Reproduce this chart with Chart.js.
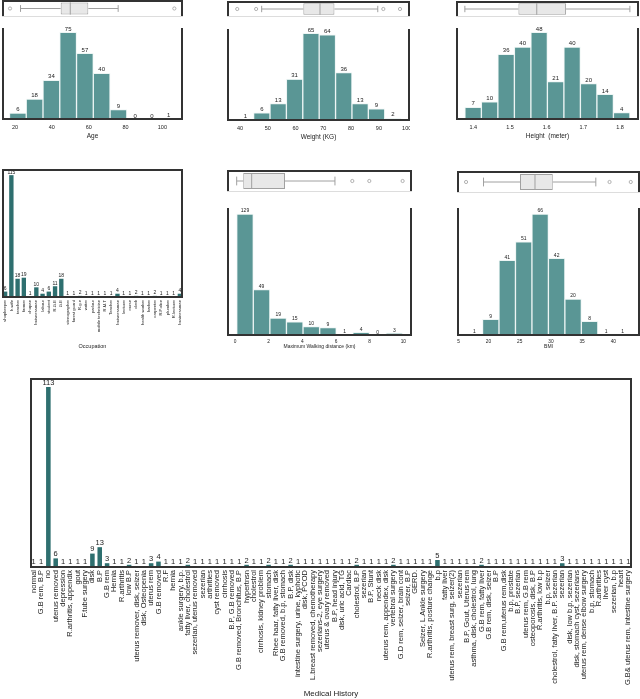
<!DOCTYPE html>
<html>
<head>
<meta charset="utf-8">
<script src="https://cdn.jsdelivr.net/npm/chart.js@4.4.0/dist/chart.umd.min.js"></script>
<style>
body { margin: 0; width: 640px; height: 699px; background: #fff; position: relative; overflow: hidden; }
.p { position: absolute; }
</style>
</head>
<body>
<div class="p" style="left:2px;top:0px;width:181px;height:17px"><canvas id="ageBox"></canvas></div>
<div class="p" style="left:2px;top:22px;width:181px;height:118px"><canvas id="ageHist"></canvas></div>
<div class="p" style="left:227px;top:1px;width:183px;height:16px"><canvas id="weightBox"></canvas></div>
<div class="p" style="left:227px;top:23px;width:183px;height:118px"><canvas id="weightHist"></canvas></div>
<div class="p" style="left:456px;top:1px;width:183px;height:16px"><canvas id="heightBox"></canvas></div>
<div class="p" style="left:456px;top:22px;width:183px;height:118px"><canvas id="heightHist"></canvas></div>

<div class="p" style="left:2px;top:163px;width:181px;height:187px"><canvas id="occChart"></canvas></div>
<div class="p" style="left:227px;top:170px;width:185px;height:22px"><canvas id="walkBox"></canvas></div>
<div class="p" style="left:227px;top:202px;width:185px;height:148px"><canvas id="walkHist"></canvas></div>
<div class="p" style="left:457px;top:171px;width:183px;height:22px"><canvas id="bmiBox"></canvas></div>
<div class="p" style="left:457px;top:202px;width:183px;height:148px"><canvas id="bmiHist"></canvas></div>

<div class="p" style="left:30px;top:372px;width:602px;height:327px"><canvas id="medChart"></canvas></div>

<script>
// histogram bins (edges), counts and box plot stats: [whisker low, q1, median, q3, whisker high]
var ageEdges = [17, 26.1, 35.2, 44.3, 53.4, 62.5, 71.6, 80.7, 89.8, 98.9, 108];
var ageCounts = [6, 18, 34, 75, 57, 40, 9, 0, 0, 1];
var ageTicks = [20, 40, 60, 80, 100];
var ageBox = [23, 44.8, 50, 59.8, 76];
var ageOutliers = [17.3, 106.5];

var weightEdges = [39, 44.9, 50.8, 56.7, 62.6, 68.5, 74.4, 80.3, 86.2, 92.1, 98];
var weightCounts = [1, 6, 13, 31, 65, 64, 36, 13, 9, 2];
var weightTicks = [40, 50, 60, 70, 80, 90, 100];
var weightBox = [47.8, 62.8, 68.8, 74, 89.6];
var weightOutliers = [39, 45.8, 91.6, 97.6];

var heightEdges = [1.377, 1.422, 1.467, 1.512, 1.557, 1.602, 1.647, 1.692, 1.737, 1.782, 1.827];
var heightCounts = [7, 10, 36, 40, 48, 21, 40, 20, 14, 4];
var heightTicks = [1.4, 1.5, 1.6, 1.7, 1.8];
var heightBox = [1.377, 1.523, 1.573, 1.653, 1.827];
var heightOutliers = [];

var walkEdges = [0.1, 1.09, 2.07, 3.06, 4.04, 5.03, 6.02, 7.0, 7.99, 8.97, 9.96];
var walkCounts = [129, 49, 19, 15, 10, 9, 1, 4, 0, 3];
var walkTicks = [0, 2, 4, 6, 8, 10];
var walkBox = [0.1, 0.49, 0.99, 2.97, 5.94];
var walkOutliers = [6.97, 7.98, 9.96];

var bmiEdges = [16.4, 19.04, 21.68, 24.32, 26.96, 29.6, 32.24, 34.88, 37.52, 40.16, 42.8];
var bmiCounts = [1, 9, 41, 51, 66, 42, 20, 8, 1, 1];
var bmiTicks = [15, 20, 25, 30, 35, 40];
var bmiBox = [19.2, 25.05, 27.45, 30.3, 37.2];
var bmiOutliers = [16.4, 39.4, 42.8];

var occLabels = ['shopkeeper', 'h.wife', 'teacher', 'farmer', 'chopan', 'buisnessman', 'labour', 'student', 'R.G.E', 'G.E',
  'stenographer', 'forest guard', 'R.g.e', 'writer', 'parlour', 'mobile technician', 'R.M.T', 'Teacher', 'buisnessman',
  'lecturer', 'nurse', 'clerk', 'health worker', 'barber', 'carpenter', 'R.Police', 'plumber', 'R.lecturer', 'businessman'];
var occCounts = [6, 115, 18, 19, 1, 10, 4, 6, 11, 18, 1, 1, 2, 1, 1, 1, 1, 1, 4, 1, 1, 2, 1, 1, 2, 1, 1, 1, 4];

var medLabels = ['normal', 'G.B rem, B.P', 'no', 'uterus removed', 'depression', 'R.arthritis, appendix', 'gout',
  'F.tube surgery', 'disk', 'B.P', 'G.B rem', 'Hernia', 'R.arthritis', 'low B.P', 'uterus remover, disk, seizer',
  'disk, Osteopenia', 'uterus rem', 'G.B removed', 'R.F', 'hernia', 'ankle surgery, b.p.', 'fatty liver, cholestrol',
  'sezerian, uterus removed', 'sezerian', 'arthrities', 'cyst removed', 'cirrhosis', 'B.P, G.B removed',
  'G.B removed, Bronchitus, B.P', 'hypertnsn', 'cholestrol', 'cirrhosis, kidney problem', 'stomach',
  'Rhee haar, fatty liver, disk', 'G.B removed, b.p, stomach', 'B.P, disk', 'intestine surgery, urine, kyphotic',
  'disk, PCOD', 'L.breast removed, chemotherapy', 'sezerians-2, eye surgery', 'uterus & ovary removed',
  'B.P, head injury', 'disk, uric acid, TG', 'Cardiac', 'cholestrol, B.P', 'sezerian', 'B.P, Stunt', 'neck disk',
  'uterus rem, appendex, disk', 'vertebral surgery', 'G.D rem, seizer, brain cont', 'seizer, B.P', 'GERD.',
  'Seizer, L.Ankle surgery', 'R.arthritis, posture change', 'b.p', 'fatty liver', 'uterus rem, breast surg, seizer(2)',
  'sezerian', 'B.P, Gout, Uterus rem', 'asthma, disk, cholestrol, lung', 'G.B rem, fatty liver', 'G.B rem, disk, seizer',
  'B.P', 'G.B rem,uterus rem,disk', 'b.p, prostate', 'B.P, sezerian', 'uterus rem, G.B rem', 'osteoporosis, disk, B.P',
  'R.arthritis, low b.p', 'b.p, seizer', 'cholestrol, fatty liver, B.P. sezerian', 'sezerian', 'disk, low b.p, sezerian',
  'disk, stomach cyst, sezerians', 'uterus rem, dense elbow surgery', 'b.p, stomach', 'R.arthrities', 'liver cyst',
  'sezerian, b.p', 'heart', 'G.B& uterus rem, intestine surgery'];
var medCounts = [1, 1, 113, 6, 1, 1, 1, 1, 9, 13, 3, 1, 1, 2, 1, 1, 3, 4, 1, 1, 1, 2, 1, 1, 1, 1, 1, 1,
  1, 2, 1, 1, 2, 1, 1, 2, 1, 1, 1, 1, 1, 1, 1, 1, 2, 1, 1, 1, 1, 2, 1, 1, 1, 1,
  1, 5, 1, 1, 1, 1, 1, 2, 1, 1, 1, 1, 1, 1, 1, 1, 1, 1, 3, 1, 1, 1, 1, 1, 1, 1, 1, 1];

Chart.defaults.font.family = '"Liberation Sans", Arial, sans-serif';
Chart.defaults.color = '#222';
Chart.defaults.animation = false;
Chart.defaults.plugins.legend.display = false;
Chart.defaults.plugins.tooltip.enabled = false;

var DARK = '#333333';

// lines along the plot area edges (like the matplotlib spines)
function frame(sides) {
  return {
    id: 'frame',
    afterDraw: function (chart) {
      var a = chart.chartArea, ctx = chart.ctx;
      ctx.save();
      Object.keys(sides).forEach(function (side) {
        var s = sides[side], h = s.w / 2;
        ctx.strokeStyle = s.c;
        ctx.lineWidth = s.w;
        ctx.beginPath();
        if (side === 'top') { ctx.moveTo(a.left, a.top + h); ctx.lineTo(a.right, a.top + h); }
        if (side === 'bottom') { ctx.moveTo(a.left, a.bottom - h); ctx.lineTo(a.right, a.bottom - h); }
        if (side === 'left') { ctx.moveTo(a.left + h, a.top); ctx.lineTo(a.left + h, a.bottom); }
        if (side === 'right') { ctx.moveTo(a.right - h, a.top); ctx.lineTo(a.right - h, a.bottom); }
        ctx.stroke();
      });
      ctx.restore();
    }
  };
}

// count written over every bar
function valueLabels(size) {
  return {
    id: 'valueLabels',
    afterDatasetsDraw: function (chart) {
      var ctx = chart.ctx, meta = chart.getDatasetMeta(0), ds = chart.data.datasets[0];
      ctx.save();
      ctx.font = size + 'px "Liberation Sans", Arial, sans-serif';
      ctx.fillStyle = '#222';
      ctx.textAlign = 'center';
      ctx.textBaseline = 'bottom';
      meta.data.forEach(function (bar, i) {
        var v = ds.data[i];
        if (typeof v === 'object') v = v.y;
        ctx.fillText(v, bar.x, bar.y - 0.5);
      });
      ctx.restore();
    }
  };
}

function histChart(id, edges, counts, ticks, xmin, xmax, o) {
  var pts = counts.map(function (c, i) { return { x: (edges[i] + edges[i + 1]) / 2, y: c }; });
  return new Chart(document.getElementById(id), {
    type: 'bar',
    data: {
      datasets: [{
        data: pts,
        backgroundColor: '#5a9695',
        borderColor: 'rgba(235,244,243,0.9)',
        borderWidth: 1,
        barPercentage: 1,
        categoryPercentage: 1
      }]
    },
    options: {
      responsive: true,
      maintainAspectRatio: false,
      layout: { padding: { top: 6 } },
      scales: {
        x: {
          type: 'linear', min: xmin, max: xmax, offset: false,
          grid: { display: false, drawTicks: false, offset: false },
          border: { display: false },
          afterBuildTicks: function (s) { s.ticks = ticks.map(function (v) { return { value: v }; }); },
          ticks: { font: { size: o.tick }, padding: o.pad, maxRotation: 0, autoSkip: false,
                   callback: function (v) { return String(v); } },
          title: { display: true, text: o.title, font: { size: o.titleSize }, padding: 0 },
          afterFit: function (s) { s.height = o.axisH; s.paddingLeft = 0; s.paddingRight = 0; }
        },
        y: { display: false, min: 0, max: Math.max.apply(null, counts) * 1.05 }
      }
    },
    plugins: [frame({ left: { c: DARK, w: 2 }, right: { c: DARK, w: 2 }, bottom: { c: DARK, w: 2 } }), valueLabels(o.val)]
  });
}

function boxChart(id, box, outliers, xmin, xmax) {
  var grey = '#a0a0a0';
  function seg(x1, y1, x2, y2) {
    return { data: [{ x: x1, y: y1 }, { x: x2, y: y2 }], showLine: true, borderColor: grey, borderWidth: 1,
             pointRadius: 0, pointHoverRadius: 0 };
  }
  return new Chart(document.getElementById(id), {
    type: 'scatter',
    data: {
      datasets: [
        seg(box[2], -0.72, box[2], 0.72),
        seg(box[0], 0, box[1], 0),
        seg(box[3], 0, box[4], 0),
        seg(box[0], -0.4, box[0], 0.4),
        seg(box[4], -0.4, box[4], 0.4),
        { data: outliers.map(function (v) { return { x: v, y: 0 }; }), pointRadius: 1.6, pointBorderWidth: 0.8,
          pointBorderColor: grey, pointBackgroundColor: '#fff' },
        { type: 'bar', indexAxis: 'y', data: [{ x: [box[1], box[3]], y: 0 }], backgroundColor: '#e8e8e8',
          borderColor: grey, borderWidth: 1, borderSkipped: false, barPercentage: 0.72, categoryPercentage: 1 }
      ]
    },
    options: {
      responsive: true,
      maintainAspectRatio: false,
      layout: { padding: 0, autoPadding: false },
      scales: {
        x: { type: 'linear', min: xmin, max: xmax, display: false, offset: false },
        y: { type: 'linear', min: -1, max: 1, display: false, offset: false,
             afterBuildTicks: function (s) { s.ticks = [{ value: -1 }, { value: 1 }]; } }
      }
    },
    plugins: [frame({ top: { c: DARK, w: 2 }, left: { c: DARK, w: 2 }, right: { c: DARK, w: 2 }, bottom: { c: '#dddddd', w: 1 } })]
  });
}

function countChart(id, labels, counts, o) {
  return new Chart(document.getElementById(id), {
    type: 'bar',
    data: {
      labels: labels,
      datasets: [{ data: counts, backgroundColor: '#2e6f6f', barPercentage: o.bar, categoryPercentage: 1 }]
    },
    options: {
      responsive: true,
      maintainAspectRatio: false,
      layout: { padding: { top: 6 } },
      scales: {
        x: {
          grid: { display: false, drawTicks: false },
          border: { display: false },
          ticks: { autoSkip: false, minRotation: 90, maxRotation: 90, font: { size: o.tick }, padding: o.pad },
          title: { display: true, text: o.title, font: { size: o.titleSize }, padding: 0 },
          afterFit: function (s) { s.height = o.axisH; s.paddingLeft = 0; s.paddingRight = 0; }
        },
        y: { display: false, min: 0, max: Math.max.apply(null, counts) * 1.05 }
      }
    },
    plugins: [frame({ top: { c: DARK, w: 2 }, left: { c: DARK, w: 2 }, right: { c: DARK, w: 2 }, bottom: { c: DARK, w: 2 } }), valueLabels(o.val)]
  });
}

var topRow = { tick: 5.5, pad: 4, title: '', titleSize: 6.5, axisH: 20, val: 6 };
var midRow = { tick: 4.8, pad: 3, title: '', titleSize: 5, axisH: 14, val: 5 };

boxChart('ageBox', ageBox, ageOutliers, 12.94, 111.2);
histChart('ageHist', ageEdges, ageCounts, ageTicks, 12.94, 111.2, Object.assign({}, topRow, { title: 'Age' }));
boxChart('weightBox', weightBox, weightOutliers, 35.32, 101.2);
histChart('weightHist', weightEdges, weightCounts, weightTicks, 35.32, 101.2, Object.assign({}, topRow, { title: 'Weight (KG)' }));
boxChart('heightBox', heightBox, heightOutliers, 1.3528, 1.8518);
histChart('heightHist', heightEdges, heightCounts, heightTicks, 1.3528, 1.8518, Object.assign({}, topRow, { title: 'Height  (meter)' }));

boxChart('walkBox', walkBox, walkOutliers, -0.475, 10.517);
histChart('walkHist', walkEdges, walkCounts, walkTicks, -0.475, 10.517, Object.assign({}, midRow, { title: 'Maximum Walking distance (km)' }));
boxChart('bmiBox', bmiBox, bmiOutliers, 14.95, 44.28);
histChart('bmiHist', bmiEdges, bmiCounts, bmiTicks, 14.95, 44.28, Object.assign({}, midRow, { title: 'BMI' }));

countChart('occChart', occLabels, occCounts, { tick: 4.2, pad: 2, title: 'Occupation', titleSize: 5.5, axisH: 52, val: 5, bar: 0.7 });
countChart('medChart', medLabels, medCounts, { tick: 7.5, pad: 2, title: 'Medical History', titleSize: 8, axisH: 131, val: 7.5, bar: 0.62 });
</script>
</body>
</html>
